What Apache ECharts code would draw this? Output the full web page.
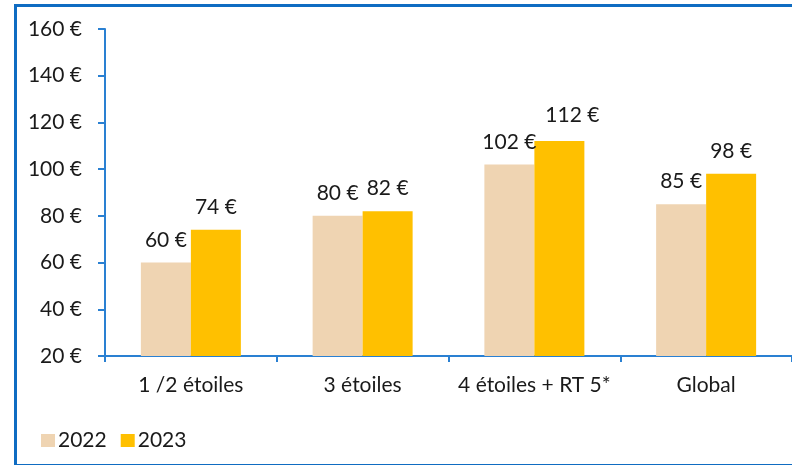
<!DOCTYPE html>
<html>
<head>
<meta charset="utf-8">
<script src="https://cdn.jsdelivr.net/npm/echarts@6/dist/echarts.min.js"></script>
<style>
  html, body { margin: 0; padding: 0; background: #fff; }
  #chart { width: 792px; height: 465px; }
</style>
</head>
<body>
<div id="chart"></div>
<script>
// données
var categories = ['1 /2 étoiles', '3 étoiles', '4 étoiles + RT 5*', 'Global'];
var values2022 = [60, 80, 102, 85];
var values2023 = [74, 82, 112, 98];

var font = 'Lato';
var blue = '#2a80d2';
var txt = '#1a1a1a';

var chart = echarts.init(document.getElementById('chart'));

function euro(p) {
  return p.value + ' €';
}

var option = {
  backgroundColor: '#fff',
  textStyle: { fontFamily: font, color: txt },
  graphic: [{
    type: 'rect',
    left: 13,
    top: 3,
    shape: { width: 800, height: 460 },
    style: { fill: 'none', stroke: '#0f6cc2', lineWidth: 3 },
    silent: true
  }],
  legend: {
    left: 36,
    top: 425,
    itemWidth: 14,
    itemHeight: 13,
    itemGap: 14,
    icon: 'rect',
    textStyle: { fontFamily: font, fontSize: 21, color: txt, padding: [0, 0, 0, -2] },
    data: ['2022', '2023']
  },
  grid: {
    left: 105,
    top: 29,
    width: 690,
    height: 327,
    containLabel: false
  },
  xAxis: {
    type: 'category',
    data: categories,
    axisLine: { lineStyle: { color: blue, width: 2 } },
    axisTick: { show: true, length: 6, lineStyle: { color: blue, width: 2 } },
    axisLabel: { interval: 0, fontFamily: font, fontSize: 21, color: txt, margin: 19 }
  },
  yAxis: {
    type: 'value',
    min: 20,
    max: 160,
    interval: 20,
    splitLine: { show: false },
    axisLine: { show: true, lineStyle: { color: blue, width: 2 } },
    axisTick: { show: true, length: 7, lineStyle: { color: blue, width: 2 } },
    axisLabel: {
      fontFamily: font, fontSize: 21, color: txt, margin: 23,
      formatter: function (v) { return v + ' €'; }
    }
  },
  series: [
    {
      name: '2022',
      type: 'bar',
      data: values2022,
      barWidth: 50,
      barGap: '0%',
      itemStyle: { color: '#efd4b2' },
      label: {
        show: true, position: 'top', distance: 12,
        fontFamily: font, fontSize: 21, color: txt,
        formatter: euro
      }
    },
    {
      name: '2023',
      type: 'bar',
      data: values2023.map(function (v, i) {
        // l'étiquette 112 € est décalée vers la droite
        if (i === 2) return { value: v, label: { offset: [13, -3] } };
        return v;
      }),
      barWidth: 50,
      itemStyle: { color: '#ffc000' },
      label: {
        show: true, position: 'top', distance: 12,
        fontFamily: font, fontSize: 21, color: txt,
        formatter: euro
      }
    }
  ]
};

chart.setOption(option);
</script>
</body>
</html>
